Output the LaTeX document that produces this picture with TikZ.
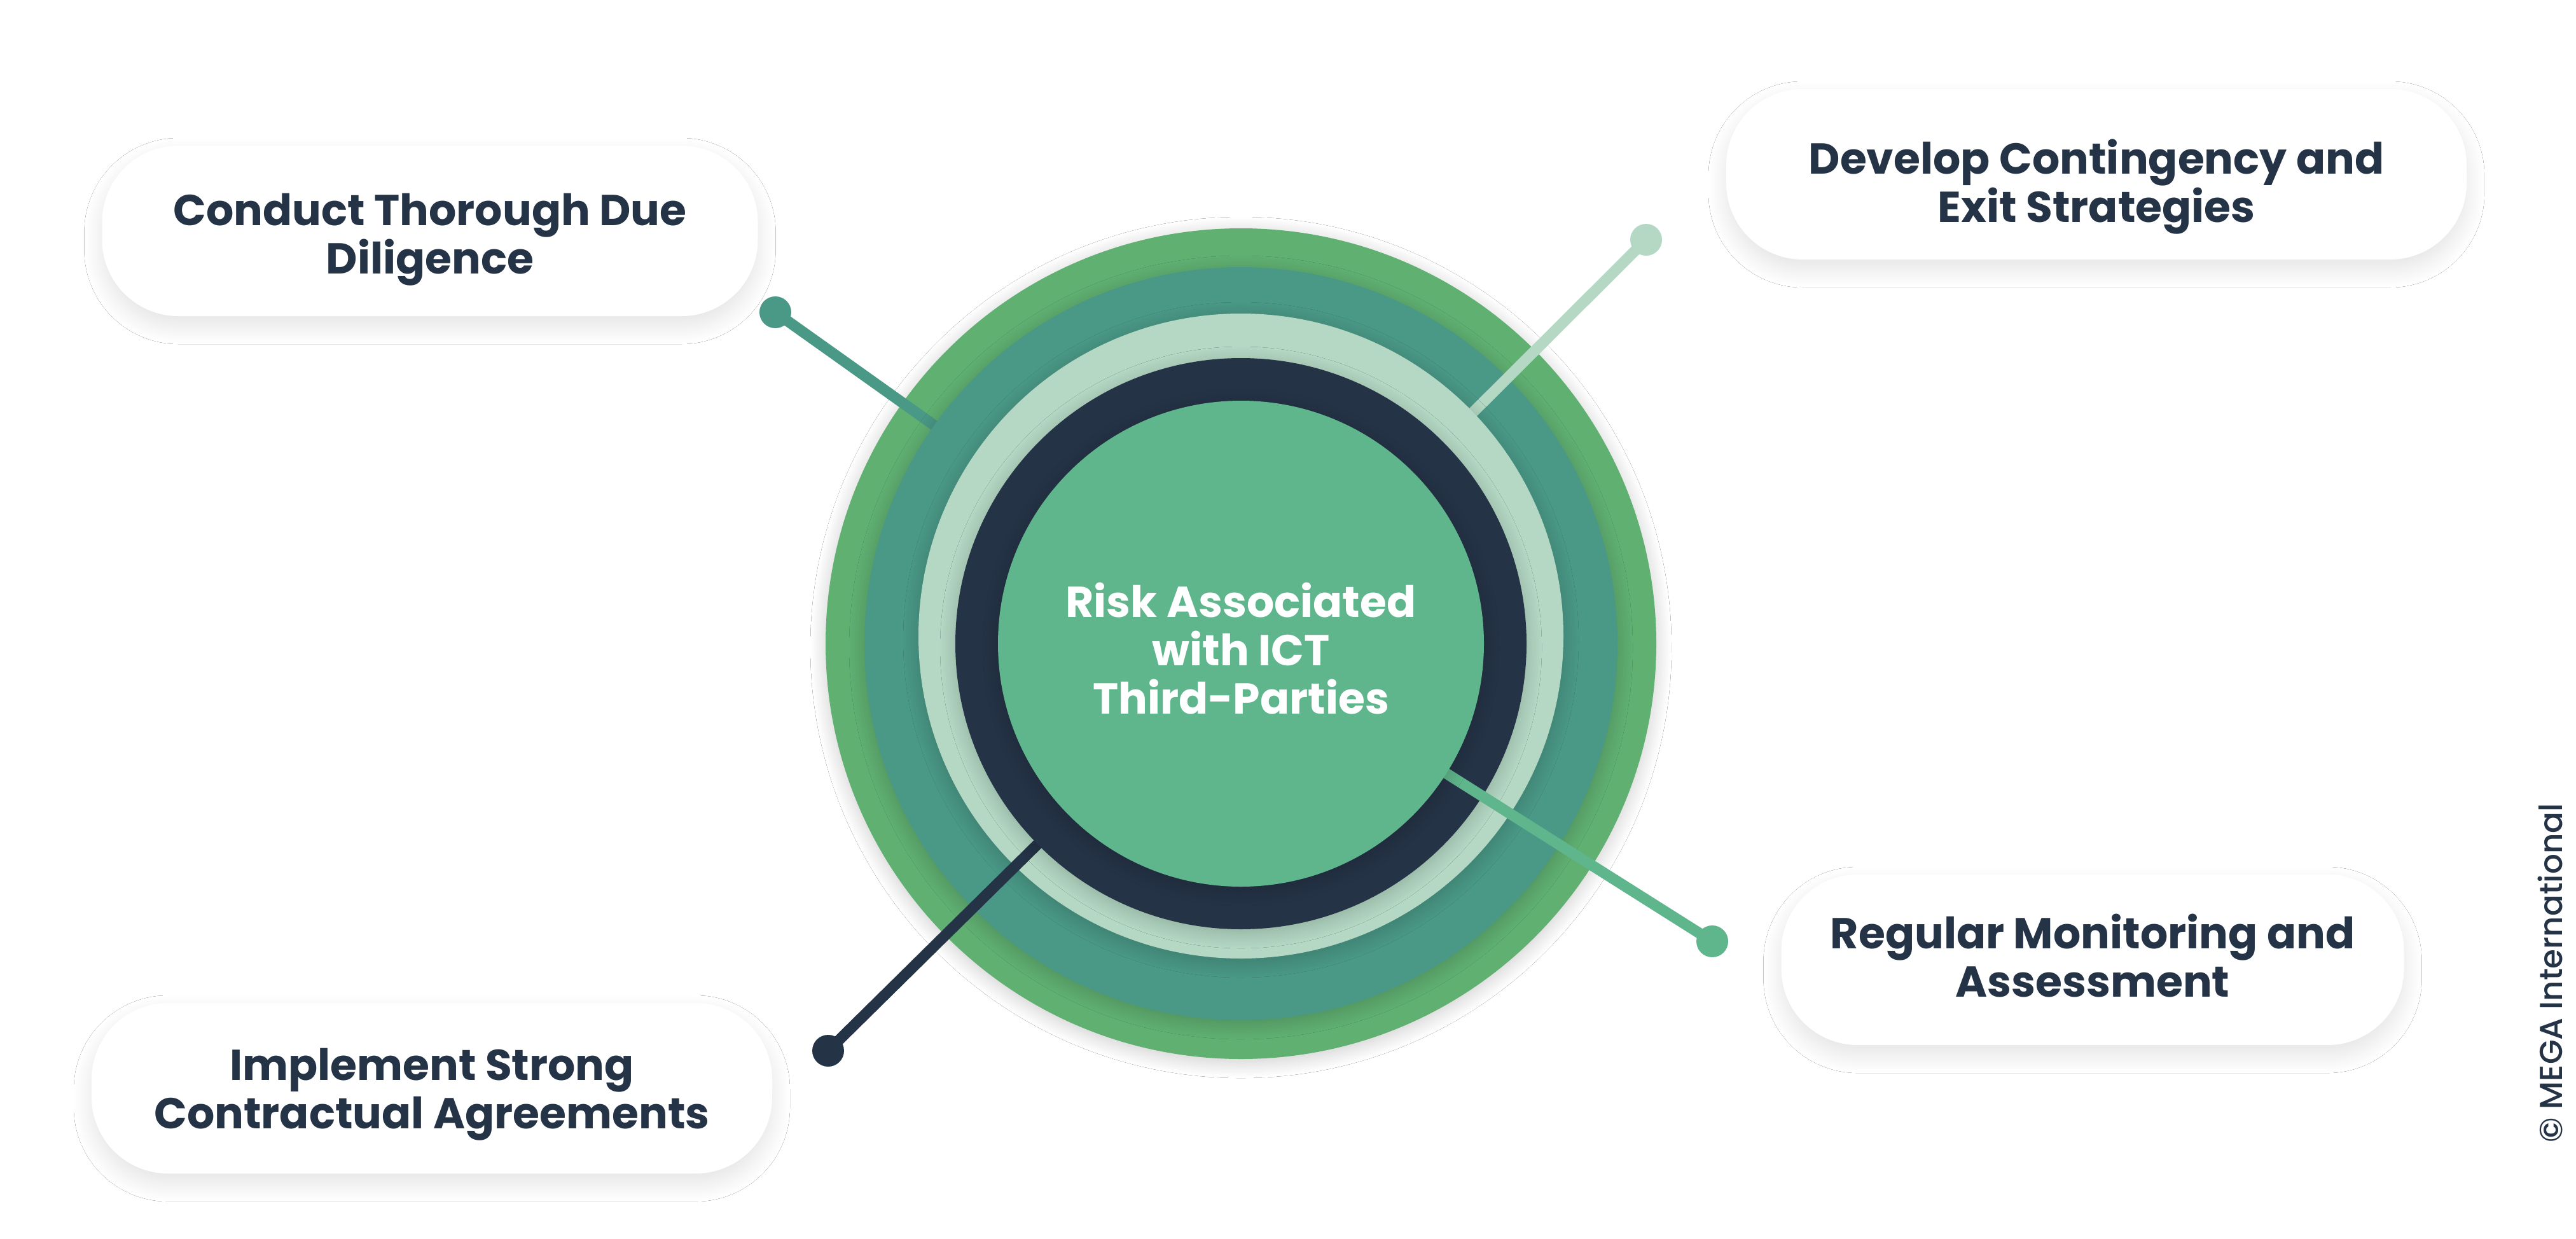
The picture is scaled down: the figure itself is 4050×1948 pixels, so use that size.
\documentclass[tikz,border=0pt]{standalone}
\usepackage{fontspec}
\setmainfont{Poppins}
\newfontfamily\pmed{Poppins}[UprightFont={* Medium}]
\usetikzlibrary{shadows.blur}
\definecolor{gOuter}{RGB}{96,176,114}
\definecolor{gTeal}{RGB}{74,152,134}
\definecolor{gLight}{RGB}{180,216,196}
\definecolor{gNavy}{RGB}{37,51,71}
\definecolor{gInner}{RGB}{95,181,140}
\begin{document}
\begin{tikzpicture}[x=1pt,y=-1pt,
  pill/.style={fill=white, rounded corners=120pt, inner sep=0pt, outer sep=0pt,
    minimum height=268pt,
    blur shadow={shadow xshift=0pt, shadow yshift=-16pt, shadow blur radius=28pt, shadow blur steps=24, shadow opacity=11}},
  pilltext/.style={align=center, text=gNavy, inner sep=0pt,
    font=\bfseries\fontsize{68}{76}\selectfont\lineskiplimit -200pt\relax},
  ring/.style={circle, inner sep=0pt, outer sep=0pt,
    blur shadow={shadow xshift=0pt, shadow yshift=-6pt, shadow blur radius=24pt, shadow blur steps=20, shadow opacity=20}},
  spoke/.style={line width=17pt},
  knob/.style={circle, inner sep=0pt, outer sep=0pt, minimum size=50pt}]
\fill[white] (0,0) rectangle (4050,1948);
\useasboundingbox (0,0) rectangle (4050,1948);
\coordinate (ctr) at (1951,1012);

% boxes
\node[pill, minimum width=1031pt] (b1) at (676,363) {};
\node[pill, minimum width=1164pt] (b2) at (3296,274) {};
\node[pill, minimum width=979pt] (b3) at (3290,1509) {};
\node[pill, minimum width=1070pt] (b4) at (679,1711) {};
\node[pilltext] (t1) at ([yshift=-14pt]b1.center) {Conduct Thorough Due\\Diligence};
\node[pilltext] (t2) at ([yshift=-20pt]b2.center) {Develop Contingency and\\Exit Strategies};
\node[pilltext] (t3) at ([yshift=6pt]b3.center) {Regular Monitoring and\\Assessment};
\node[pilltext] (t4) at ([yshift=-10pt]b4.center) {Implement Strong\\Contractual Agreements};

% rings and spokes
\node[ring, fill=gOuter, minimum size=1306pt] (r1) at (ctr) {};

\node[knob, fill=gTeal] (d1) at (1219,491) {};
\draw[spoke, gTeal] (d1.center) -- (ctr);
\node[ring, fill=gTeal, minimum size=1184pt] (r2) at (ctr) {};

\node[knob, fill=gLight] (d2) at (2588,377) {};
\draw[spoke, gLight] (d2.center) -- (ctr);
\node[ring, fill=gLight, minimum size=1014pt] (r3) at (1951,1000) {};

\node[knob, fill=gNavy] (d4) at (1302,1652) {};
\draw[spoke, gNavy] (d4.center) -- (ctr);
\node[ring, fill=gNavy, minimum size=898pt] (r4) at (ctr) {};

\node[knob, fill=gInner] (d3) at (2692,1480) {};
\draw[spoke, gInner] (d3.center) -- (ctr);
\node[ring, fill=gInner, minimum size=764pt] (r5) at (ctr) {};

\node[pilltext, text=white] (ctext) at (1951,1020) {Risk Associated\\with ICT\\Third-Parties};

\node[rotate=90, text=gNavy, font=\pmed\fontsize{50}{55}\selectfont] (copy) at (4009,1530) {© MEGA International};
\end{tikzpicture}
\end{document}
